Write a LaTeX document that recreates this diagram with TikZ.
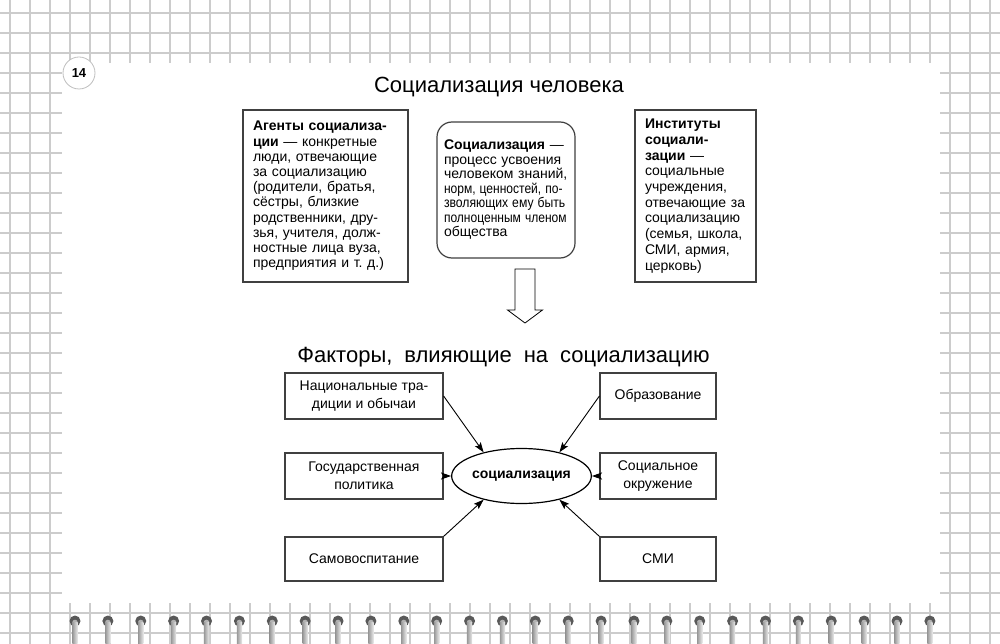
\documentclass[tikz,border=0pt]{standalone}
\usepackage{graphicx}
\usepackage{fontspec}
\setmainfont{Liberation Sans}
\usetikzlibrary{arrows.meta,shapes.geometric}
\frenchspacing
\newcommand\sqzline[2]{\scalebox{#1}[1]{#2}}
\begin{document}
\begin{tikzpicture}[x=1pt,y=-1pt,
  gridline/.style={draw=black!20,line width=1.3pt},
  infobox/.style={draw=black!75,line width=1.2pt,fill=white,align=left,inner xsep=10pt,inner ysep=0pt},
  factor/.style={draw=black!75,line width=1.2pt,fill=white,align=center,inner sep=2pt,
    minimum height=46pt,font=\fontsize{14pt}{18pt}\selectfont},
  conn/.style={draw=black,line width=0.9pt,-{Stealth[length=10pt,width=7pt,inset=2pt]}},
  titletext/.style={anchor=base,font=\fontsize{22pt}{26pt}\selectfont}
]
\useasboundingbox (0,0) rectangle (1000,644);
% squared paper
\foreach \i in {0,...,49} \draw[gridline] (10+20*\i,0) -- (10+20*\i,644);
\foreach \j in {0,...,31} \draw[gridline] (0,13+20*\j) -- (1000,13+20*\j);
% page
\fill[white] (62,63) rectangle (940,603);
% spiral rings
\foreach \k in {0,...,26} {
  \pgfmathsetmacro\cx{75+32.88*\k}
  \fill[black!65] (\cx,621) circle (5.5);
  \fill[black!30] (\cx,622.5) circle (2.8);
  \shade[left color=black!40,right color=black!8] (\cx-2.6,622) rectangle (\cx+2.6,644);
}
% page number
\node[circle,draw=black!25,line width=0.8pt,fill=white,minimum size=32pt,inner sep=0pt,
  font=\bfseries\fontsize{13pt}{13pt}\selectfont] (pg) at (79,73) {14};
% titles
\node[titletext] (t1) at (499,93) {Социализация человека};
\node[titletext] (t2) at (503.5,362) {Факторы,\hspace{12pt}влияющие\hspace{12pt}на\hspace{12pt}социализацию};
% top boxes
\node[infobox,text width=145pt,minimum height=172pt,font=\fontsize{14pt}{15.2pt}\selectfont] (agents) at (325.5,196)
 {\textbf{Агенты социализа-}\\\textbf{ции} — конкретные\\люди, отвечающие\\за социализацию\\(родители, братья,\\сёстры, близкие\\родственники, дру-\\зья, учителя, долж-\\ностные лица вуза,\\предприятия и т. д.)};
\node[infobox,rounded corners=15pt,inner xsep=4pt,text width=130pt,minimum height=136pt,font=\fontsize{14pt}{14.5pt}\selectfont] (def) at (506,190)
 {\hspace*{3pt}\textbf{Социализация} —\\\hspace*{3pt}процесс усвоения\\\hspace*{3pt}человеком знаний,\\\hspace*{3pt}\sqzline{0.86}{норм, ценностей, по-}\\\hspace*{3pt}\sqzline{0.87}{зволяющих ему быть}\\\hspace*{3pt}\sqzline{0.86}{полноценным членом}\\\hspace*{3pt}общества};
\node[infobox,text width=101pt,minimum height=172pt,font=\fontsize{14pt}{15.7pt}\selectfont] (inst) at (695.5,196)
 {\textbf{Институты}\\\textbf{социали-}\\\textbf{зации} —\\социальные\\учреждения,\\отвечающие за\\социализацию\\(семья, школа,\\СМИ, армия,\\церковь)};
% hollow arrow
\coordinate (ha) at (525,269);
\draw[line width=0.8pt,fill=white] (ha) ++(-10,0) -- ++(20,0) -- ++(0,41) -- ++(7.5,0)
  -- ++(-17.5,13) -- ++(-17.5,-13) -- ++(7.5,0) -- cycle;
% factors
\node[factor,minimum width=158pt] (nt) at (364,396) {Национальные тра-\\диции и обычаи};
\node[factor,minimum width=158pt] (gp) at (364,476) {Государственная\\политика};
\node[factor,minimum width=158pt,minimum height=44pt] (self) at (364,559) {Самовоспитание};
\node[factor,minimum width=116pt] (obr) at (658,396) {Образование};
\node[factor,minimum width=116pt] (so) at (658,476) {Социальное\\окружение};
\node[factor,minimum width=116pt,minimum height=44pt] (smi) at (658,559) {СМИ};
\node[ellipse,draw=black,line width=1.2pt,fill=white,minimum width=115pt,minimum height=55pt,inner sep=0pt,
  font=\bfseries\fontsize{14pt}{16pt}\selectfont] (soc) at (521.5,476) {социализация};
% connectors
\draw[conn] (nt.east) -- (soc.148);
\draw[conn] (obr.west) -- (soc.32);
\draw[conn] (gp.east) -- (soc.west);
\draw[conn] (so.west) -- (soc.east);
\draw[conn] (self.north east) -- (soc.212);
\draw[conn] (smi.north west) -- (soc.328);
\end{tikzpicture}
\end{document}
